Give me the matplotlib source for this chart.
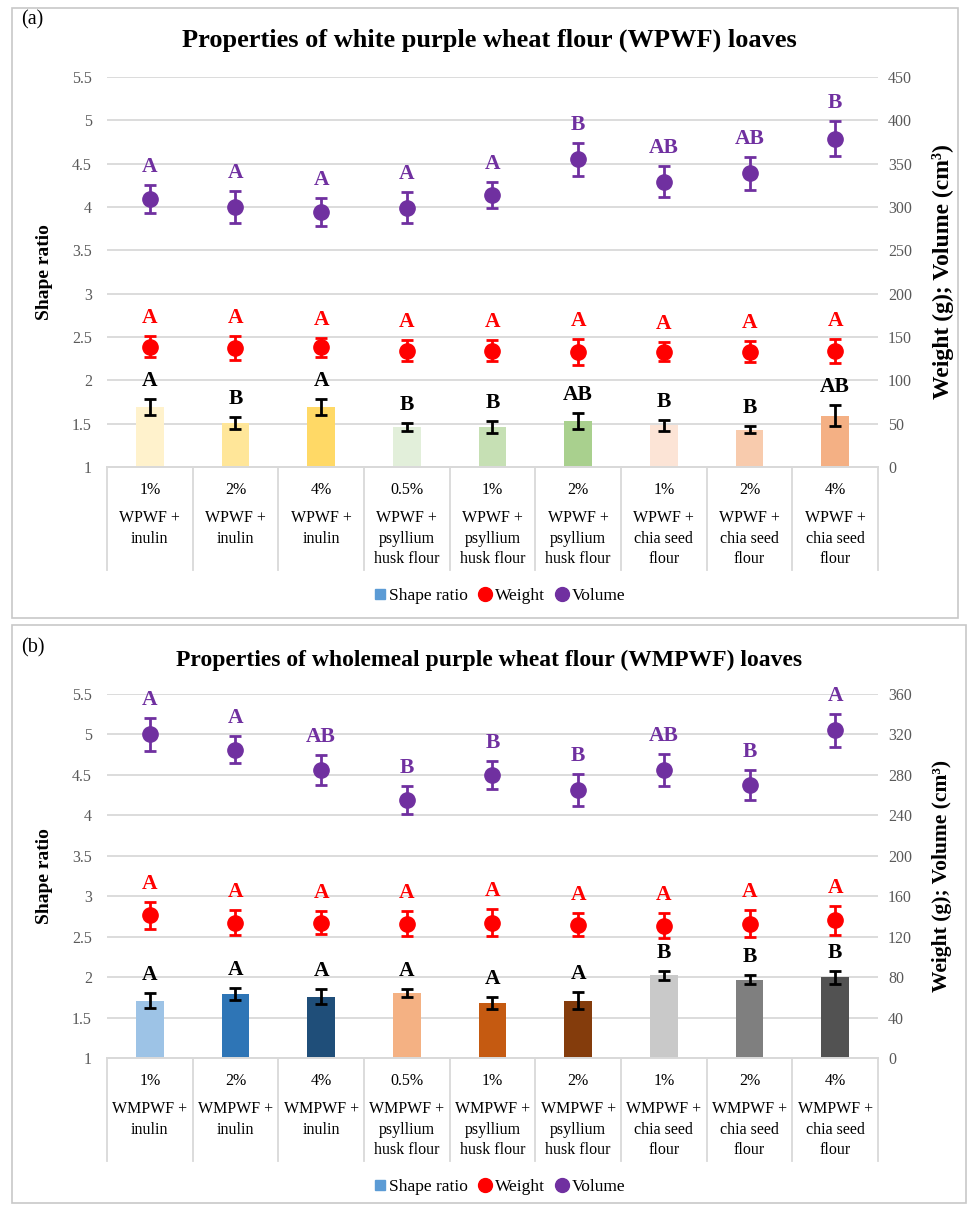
import matplotlib
matplotlib.use("Agg")
import matplotlib.pyplot as plt
from matplotlib.lines import Line2D
from matplotlib.patches import Rectangle
import matplotlib.transforms as mtrans
import numpy as np

plt.rcParams['font.family'] = ['Liberation Serif', 'DejaVu Serif']

# ---------------- data ----------------
pct_labels = ['1%', '2%', '4%', '0.5%', '1%', '2%', '1%', '2%', '4%']
groups_a = ['WPWF +\ninulin'] * 3 + ['WPWF +\npsyllium\nhusk flour'] * 3 + ['WPWF +\nchia seed\nflour'] * 3
groups_b = ['WMPWF +\ninulin'] * 3 + ['WMPWF +\npsyllium\nhusk flour'] * 3 + ['WMPWF +\nchia seed\nflour'] * 3

shape_a = [1.69, 1.51, 1.69, 1.46, 1.46, 1.53, 1.48, 1.43, 1.59]
shape_a_err = [0.09, 0.07, 0.09, 0.05, 0.07, 0.09, 0.06, 0.04, 0.12]
weight_a = [139, 137, 138, 134, 134, 133, 133, 133, 134]
weight_a_err = [12, 14, 11, 12, 12, 15, 11, 12, 14]
volume_a = [309, 300, 294, 299, 314, 355, 329, 339, 379]
volume_a_err = [16, 18, 16, 18, 15, 19, 18, 19, 20]
shape_a_let = ['A', 'B', 'A', 'B', 'B', 'AB', 'B', 'B', 'AB']
weight_a_let = ['A'] * 9
volume_a_let = ['A', 'A', 'A', 'A', 'A', 'B', 'AB', 'AB', 'B']
colors_a = ['#FFF2CC', '#FFE699', '#FFD966', '#E2EFDA', '#C6E0B4', '#A9D08E',
            '#FCE4D6', '#F8CBAD', '#F4B084']

shape_b = [1.71, 1.79, 1.76, 1.80, 1.68, 1.71, 2.02, 1.97, 2.00]
shape_b_err = [0.09, 0.07, 0.09, 0.05, 0.07, 0.10, 0.06, 0.06, 0.08]
weight_b = [141, 134, 134, 133, 134, 132, 131, 133, 136]
weight_b_err = [13, 12, 11, 12, 13, 11, 12, 13, 14]
volume_b = [320, 305, 285, 255, 280, 265, 285, 270, 324]
volume_b_err = [16, 13, 15, 14, 14, 16, 16, 15, 16]
shape_b_let = ['A'] * 6 + ['B'] * 3
weight_b_let = ['A'] * 9
volume_b_let = ['A', 'A', 'AB', 'B', 'B', 'B', 'AB', 'B', 'A']
colors_b = ['#9DC3E6', '#2E75B6', '#1F4E79', '#F4B183', '#C55A11', '#843C0C',
            '#C9C9C9', '#7F7F7F', '#525252']

RED = '#FF0000'
PURPLE = '#7030A0'
GRID = '#D9D9D9'
TICKC = '#595959'

W, H = 969, 1207
fig = plt.figure(figsize=(W / 100, H / 100), dpi=100)


def fx(px):
    return px / W


def fy(py):
    return 1 - py / H


def px2pt(p):
    return p * 0.72


def panel(top_px, bot_px, title, title_y, title_size, tag, tag_y, groups, shape,
          shape_err, weight, weight_err, volume, volume_err, sl, wl, vl, colors,
          rmax, rstep, legend_y, box, rlabel_size):
    bx0, by0, bx1, by1 = box
    fig.add_artist(Rectangle((fx(bx0), fy(by1)), fx(bx1 - bx0), (by1 - by0) / H,
                             transform=fig.transFigure, fill=False,
                             edgecolor='#C8C8C8', lw=1.2))
    left, right = 107, 878
    ax = fig.add_axes([fx(left), fy(bot_px), fx(right - left), (bot_px - top_px) / H])
    ax2 = ax.twinx()
    ax.set_zorder(1)
    ax2.set_zorder(2)
    ax.patch.set_visible(False)
    x = np.arange(len(shape))
    ax.set_xlim(-0.5, len(shape) - 0.5)
    ax.set_ylim(1, 5.5)
    ax.set_yticks(np.arange(1, 5.51, 0.5))
    ax.set_yticklabels(['1', '1.5', '2', '2.5', '3', '3.5', '4', '4.5', '5', '5.5'])
    ax2.set_ylim(0, rmax)
    ax2.set_yticks(np.arange(0, rmax + 0.1, rstep))
    ax.grid(axis='y', color=GRID, lw=1.3)
    ax.set_axisbelow(True)
    for a in (ax, ax2):
        for s in ('top', 'left', 'right'):
            a.spines[s].set_visible(False)
        a.spines['bottom'].set_color(GRID)
        a.spines['bottom'].set_linewidth(1.3)
        a.set_xticks([])
    ax.tick_params(axis='y', length=0, pad=px2pt(15), labelsize=11.5, labelcolor=TICKC)
    ax2.tick_params(axis='y', length=0, pad=px2pt(10), labelsize=11.5, labelcolor=TICKC)
    ax.set_ylabel('Shape ratio', fontsize=14, fontweight='bold')
    ax.yaxis.set_label_coords((53 - left) / (right - left), 0.5)
    ax2.set_ylabel('Weight (g); Volume (cm³)', fontsize=rlabel_size, fontweight='bold',
                   rotation=90)
    ax2.yaxis.set_label_coords((932 - left) / (right - left), 0.5)

    ax.bar(x, shape, width=0.32, color=colors, zorder=2)
    ax.errorbar(x, shape, yerr=shape_err, fmt='none', ecolor='black', elinewidth=2,
                capsize=4, capthick=2, zorder=3)
    ax2.errorbar(x, weight, yerr=weight_err, fmt='o', color=RED, ecolor=RED,
                 markersize=11, elinewidth=2, capsize=4, capthick=2)
    ax2.errorbar(x, volume, yerr=volume_err, fmt='o', color=PURPLE, ecolor=PURPLE,
                 markersize=11, elinewidth=2, capsize=4, capthick=2)

    off = px2pt(18)
    for i in range(len(x)):
        ax.annotate(sl[i], (x[i], shape[i] + shape_err[i]), xytext=(0, off),
                    textcoords='offset points', ha='center', va='center',
                    fontsize=15.5, fontweight='bold', color='black', zorder=5)
        ax2.annotate(wl[i], (x[i], weight[i] + weight_err[i]), xytext=(0, off),
                     textcoords='offset points', ha='center', va='center',
                     fontsize=15.5, fontweight='bold', color=RED)
        ax2.annotate(vl[i], (x[i], volume[i] + volume_err[i]), xytext=(0, off),
                     textcoords='offset points', ha='center', va='center',
                     fontsize=15.5, fontweight='bold', color=PURPLE)

    tr = mtrans.blended_transform_factory(ax.transData, ax.transAxes)
    hpx = bot_px - top_px
    for i in range(len(x)):
        ax.text(x[i], -23 / hpx, pct_labels[i], transform=tr, ha='center',
                va='center', fontsize=11.5)
        ax.text(x[i], -43 / hpx, groups[i], transform=tr, ha='center', va='top',
                fontsize=11.5, linespacing=1.38)
    for b in np.arange(-0.5, len(x), 1.0):
        ax.plot([b, b], [0, -103 / hpx], transform=tr, color=GRID, lw=1.3,
                clip_on=False)

    fig.text(fx(489), fy(title_y), title, ha='center', va='center',
             fontsize=title_size, fontweight='bold')
    fig.text(fx(21), fy(tag_y), tag, ha='left', va='center', fontsize=14.5)

    handles = [Line2D([], [], marker='s', ls='', color='#5B9BD5', markersize=7),
               Line2D([], [], marker='o', ls='', color=RED, markersize=10),
               Line2D([], [], marker='o', ls='', color=PURPLE, markersize=10)]
    fig.legend(handles, ['Shape ratio', 'Weight', 'Volume'], loc='center',
               bbox_to_anchor=(fx(499), fy(legend_y)), ncol=3, frameon=False,
               fontsize=12.5, handlelength=0.8, handletextpad=0.15, columnspacing=0.6)


panel(77, 467, 'Properties of white purple wheat flour (WPWF) loaves', 40, 19, '(a)', 20,
      groups_a, shape_a, shape_a_err, weight_a, weight_a_err, volume_a, volume_a_err,
      shape_a_let, weight_a_let, volume_a_let, colors_a, 450, 50, 596,
      (12, 8, 958, 618), 17)
panel(694, 1058, 'Properties of wholemeal purple wheat flour (WMPWF) loaves', 660, 17,
      '(b)', 648, groups_b, shape_b, shape_b_err, weight_b, weight_b_err, volume_b,
      volume_b_err, shape_b_let, weight_b_let, volume_b_let, colors_b, 360, 40, 1187,
      (12, 625, 966, 1203), 15.5)

fig.savefig('out.png', dpi=100)
